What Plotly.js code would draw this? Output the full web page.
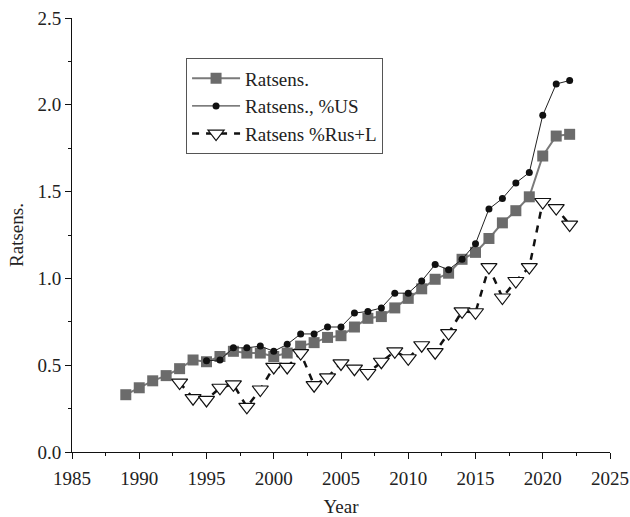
<!DOCTYPE html>
<html>
<head>
<meta charset="utf-8">
<script src="https://cdn.plot.ly/plotly-3.0.1.min.js"></script>
<style>html,body{margin:0;padding:0;background:#fff;}#chart{width:630px;height:517px;}</style>
</head>
<body>
<div id="chart"></div>
<script>
// Series 1: Ratsens.
const yearsA = [1989,1990,1991,1992,1993,1994,1995,1996,1997,1998,1999,2000,2001,2002,2003,2004,2005,2006,2007,2008,2009,2010,2011,2012,2013,2014,2015,2016,2017,2018,2019,2020,2021,2022];
const ratsens = [0.33,0.37,0.41,0.44,0.48,0.53,0.52,0.55,0.58,0.57,0.57,0.55,0.57,0.61,0.63,0.66,0.67,0.72,0.77,0.78,0.83,0.885,0.94,0.995,1.03,1.11,1.15,1.23,1.32,1.39,1.47,1.705,1.82,1.83];

// Series 2: Ratsens., %US
const yearsB = [1995,1996,1997,1998,1999,2000,2001,2002,2003,2004,2005,2006,2007,2008,2009,2010,2011,2012,2013,2014,2015,2016,2017,2018,2019,2020,2021,2022];
const ratsensUS = [0.525,0.53,0.60,0.60,0.61,0.58,0.62,0.68,0.68,0.72,0.72,0.80,0.81,0.83,0.915,0.915,0.985,1.08,1.05,1.11,1.20,1.40,1.46,1.55,1.61,1.94,2.12,2.14];

// Series 3: Ratsens %Rus+L
const yearsC = [1993,1994,1995,1996,1997,1998,1999,2000,2001,2002,2003,2004,2005,2006,2007,2008,2009,2010,2011,2012,2013,2014,2015,2016,2017,2018,2019,2020,2021,2022];
const ratsensRus = [0.40,0.31,0.30,0.37,0.39,0.26,0.36,0.49,0.49,0.57,0.385,0.43,0.51,0.48,0.455,0.52,0.58,0.54,0.615,0.575,0.685,0.81,0.805,1.065,0.89,0.985,1.065,1.44,1.405,1.31];

const seriesNames = ['Ratsens.', 'Ratsens., %US', 'Ratsens %Rus+L'];
const xTitle = 'Year';
const yTitle = 'Ratsens.';

const fontFam = '"Liberation Serif", "DejaVu Serif", serif';
const fs = 19;

const traces = [
  {
    x: yearsA, y: ratsens, name: seriesNames[0], type: 'scatter', mode: 'lines+markers',
    line: {color: '#7a7a7a', width: 2},
    marker: {symbol: 'square', size: 11, color: '#6b6b6b'}
  },
  {
    x: yearsB, y: ratsensUS, name: seriesNames[1], type: 'scatter', mode: 'lines+markers',
    line: {color: '#222222', width: 1},
    marker: {symbol: 'circle', size: 7, color: '#111111'}
  },
  {
    x: yearsC, y: ratsensRus, name: seriesNames[2], type: 'scatter', mode: 'lines+markers',
    line: {color: '#111111', width: 2.5, dash: '7px,7px'},
    marker: {symbol: 'triangle-down', size: 14, color: '#ffffff', line: {color: '#111111', width: 1.2}}
  }
];

const layout = {
  width: 630, height: 517,
  margin: {l: 72, r: 20, t: 18, b: 65},
  paper_bgcolor: '#ffffff', plot_bgcolor: '#ffffff',
  font: {family: fontFam, size: fs, color: '#222222'},
  showlegend: true,
  legend: {
    x: 0.212, y: 0.907, xanchor: 'left', yanchor: 'top',
    bordercolor: '#555555', borderwidth: 1, bgcolor: '#ffffff',
    font: {family: fontFam, size: fs, color: '#222222'},
    itemwidth: 48, tracegroupgap: 0
  },
  xaxis: {
    range: [1985, 2025], dtick: 5, tick0: 1985,
    showline: true, linecolor: '#111111', linewidth: 1,
    ticks: 'outside', ticklen: 6, tickcolor: '#111111',
    minor: {ticks: 'outside', ticklen: 3, dtick: 2.5, tickcolor: '#111111'},
    showgrid: false, zeroline: false,
    ticklabelstandoff: 3,
    tickfont: {family: fontFam, size: fs, color: '#222222'},
    title: {text: xTitle, font: {family: fontFam, size: fs, color: '#222222'}, standoff: 14}
  },
  yaxis: {
    range: [0, 2.5], dtick: 0.5, tick0: 0, tickformat: '.1f',
    showline: true, linecolor: '#111111', linewidth: 1,
    ticks: 'outside', ticklen: 6, tickcolor: '#111111',
    minor: {ticks: 'outside', ticklen: 3, dtick: 0.25, tickcolor: '#111111'},
    showgrid: false, zeroline: false,
    tickfont: {family: fontFam, size: fs, color: '#222222'},
    title: {text: yTitle, font: {family: fontFam, size: fs, color: '#222222'}, standoff: 8}
  }
};

Plotly.newPlot('chart', traces, layout, {displayModeBar: false, staticPlot: true});
</script>
</body>
</html>
